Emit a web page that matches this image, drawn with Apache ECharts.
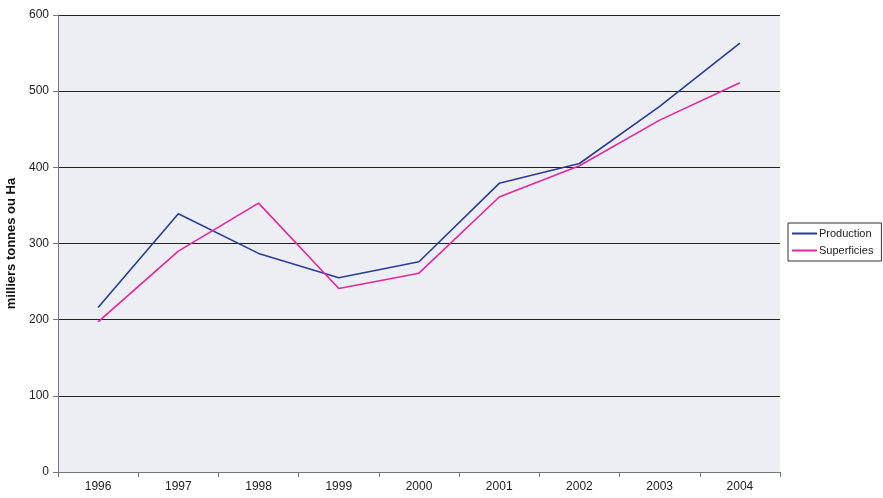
<!DOCTYPE html>
<html>
<head>
<meta charset="utf-8">
<script src="https://cdn.jsdelivr.net/npm/echarts@6/dist/echarts.min.js"></script>
<style>html,body{margin:0;padding:0;background:#fff}#c{width:883px;height:498px}</style>
</head>
<body>
<div id="c"></div>
<script>
const years = ['1996','1997','1998','1999','2000','2001','2002','2003','2004'];
const production = [216, 339, 287, 255, 276, 379, 405, 480, 563];
const superficies = [197, 290, 353, 241, 261, 361, 402, 462, 511];
const yTicks = [0, 100, 200, 300, 400, 500, 600];

const chart = echarts.init(document.getElementById('c'));
chart.setOption({
  animation: false,
  textStyle: { fontFamily: 'Liberation Sans, Arial, sans-serif' },
  grid: { left: 58, top: 15, width: 722, height: 457, backgroundColor: '#edeef4', show: true, borderWidth: 0,
          containLabel: false, outerBoundsMode: 'none' },
  legend: {
    orient: 'vertical',
    left: 788, top: 223,
    padding: [5, 8, 5, 4],
    itemGap: 6,
    itemWidth: 25, itemHeight: 2,
    icon: 'rect',
    borderColor: '#333', borderWidth: 1,
    textStyle: { fontSize: 11, color: '#222', padding: [0, 0, 0, -3] },
    data: ['Production', 'Superficies']
  },
  xAxis: {
    type: 'category',
    data: years,
    boundaryGap: true,
    axisLine: { lineStyle: { color: '#777', width: 1 } },
    axisTick: { show: true, length: 5, lineStyle: { color: '#777' } },
    axisLabel: { fontSize: 12, color: '#222', margin: 9 }
  },
  yAxis: {
    type: 'value',
    min: 0, max: 600, interval: 100,
    name: 'milliers tonnes ou Ha',
    nameLocation: 'middle',
    nameGap: 35,
    nameTextStyle: { fontSize: 13, fontWeight: 'bold', color: '#111' },
    axisLine: { show: true, lineStyle: { color: '#777' } },
    axisTick: { show: true, length: 5, lineStyle: { color: '#777' } },
    axisLabel: { fontSize: 12, color: '#222', margin: 9,
      formatter: v => yTicks.includes(v) ? String(v) : '' },
    splitLine: { show: true, lineStyle: { color: '#222', width: 1 } }
  },
  series: [
    { name: 'Production', type: 'line', data: production, symbol: 'none',
      lineStyle: { color: '#2b3c96', width: 1.6 }, itemStyle: { color: '#2b3c96' } },
    { name: 'Superficies', type: 'line', data: superficies, symbol: 'none',
      lineStyle: { color: '#e5289c', width: 1.6 }, itemStyle: { color: '#e5289c' } }
  ]
});
</script>
</body>
</html>
